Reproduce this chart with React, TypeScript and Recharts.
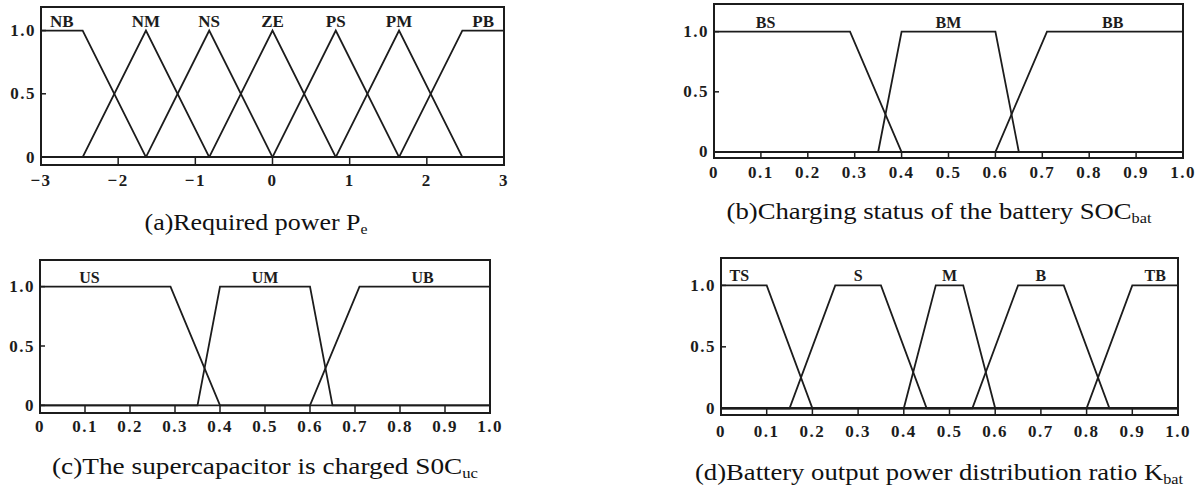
import React from 'react';
import { LineChart, Line, XAxis, YAxis, ReferenceArea, ReferenceDot } from 'recharts';

// Required power Pe: seven fuzzy sets on [-3, 3]
const peRange = [-3, 3];
const peTicks = [-3, -2, -1, 0, 1, 2, 3];
const peNames = ['NB', 'NM', 'NS', 'ZE', 'PS', 'PM', 'PB'];
const peBreaks = [
  [-3, -3, -2.46, -1.64],
  [-2.46, -1.64, -1.64, -0.82],
  [-1.64, -0.82, -0.82, 0],
  [-0.82, 0, 0, 0.82],
  [0, 0.82, 0.82, 1.64],
  [0.82, 1.64, 1.64, 2.46],
  [1.64, 2.46, 3, 3],
];
const peLabelX = [-2.73, -1.64, -0.82, 0, 0.82, 1.64, 2.73];

// shared 0..1 axis for the ratio inputs/outputs
const unitRange = [0, 1];
const unitTicks = [0, 0.1, 0.2, 0.3, 0.4, 0.5, 0.6, 0.7, 0.8, 0.9, 1];

// battery SOC
const socBatNames = ['BS', 'BM', 'BB'];
const socBatBreaks = [
  [0, 0, 0.29, 0.4],
  [0.35, 0.4, 0.6, 0.65],
  [0.6, 0.71, 1, 1],
];
const socBatLabelX = [0.11, 0.5, 0.85];

// supercapacitor SOC
const socUcNames = ['US', 'UM', 'UB'];
const socUcBreaks = [
  [0, 0, 0.29, 0.4],
  [0.35, 0.4, 0.6, 0.65],
  [0.6, 0.71, 1, 1],
];
const socUcLabelX = [0.11, 0.5, 0.85];

// battery power split ratio Kbat
const kbatNames = ['TS', 'S', 'M', 'B', 'TB'];
const kbatBreaks = [
  [0, 0, 0.1, 0.2],
  [0.15, 0.25, 0.35, 0.45],
  [0.4, 0.47, 0.53, 0.6],
  [0.55, 0.65, 0.75, 0.85],
  [0.8, 0.9, 1, 1],
];
const kbatLabelX = [0.04, 0.3, 0.5, 0.7, 0.95];

const memberTicks = [0, 0.5, 1];

const INK = '#1c1c1c';
const SERIF = '"Liberation Serif", "Times New Roman", serif';

// turn trapezoid corners into a polyline spanning the whole universe
function mfPoints(br: number[], range: number[]) {
  const [a, b, c, d] = br;
  const [lo, hi] = range;
  const pts: { x: number; y: number }[] = [];
  if (a > lo) pts.push({ x: lo, y: 0 }, { x: a, y: 0 });
  pts.push({ x: b, y: 1 });
  if (c > b) pts.push({ x: c, y: 1 });
  if (d < hi) pts.push({ x: d, y: 0 }, { x: hi, y: 0 });
  return pts;
}

const YW = 50;
const XH = 30;
const MT = 2;
const MR = 24;

type PanelProps = {
  left: number;
  top: number;
  plotW: number;
  plotH: number;
  xRange: number[];
  yRange: number[];
  xTicks: number[];
  names: string[];
  breaks: number[][];
  labelX: number[];
  tickFont: number;
  nameFont: number;
  labelGap: number;
  fmtX: (v: number) => string;
};

function Panel(p: PanelProps) {
  const width = YW + p.plotW + MR;
  const height = MT + p.plotH + XH;
  const plotLeft = YW;
  const plotBottom = MT + p.plotH;
  const [y0, y1] = p.yRange;
  const zeroY = plotBottom - ((0 - y0) / (y1 - y0)) * p.plotH;

  const renderXTick = (props: any) => {
    const { x, payload } = props;
    const v = payload.value;
    const edge = v === p.xRange[0] || v === p.xRange[1];
    return (
      <g>
        {!edge && <line x1={x} x2={x} y1={plotBottom} y2={zeroY} stroke={INK} strokeWidth={1.5} />}
        <text
          x={x}
          y={plotBottom + p.labelGap}
          textAnchor="middle"
          dominantBaseline="central"
          fontFamily={SERIF}
          fontWeight={700}
          fontSize={p.tickFont}
          letterSpacing={1.5}
          fill={INK}
        >
          {p.fmtX(v)}
        </text>
      </g>
    );
  };

  const renderYTick = (props: any) => {
    const { y, payload } = props;
    const v = payload.value;
    return (
      <g>
        <line x1={plotLeft} x2={plotLeft + 5} y1={y} y2={y} stroke={INK} strokeWidth={1.5} />
        <text
          x={plotLeft - 5}
          y={y}
          textAnchor="end"
          dominantBaseline="central"
          fontFamily={SERIF}
          fontWeight={700}
          fontSize={p.tickFont}
          letterSpacing={1.5}
          fill={INK}
        >
          {v === 0 ? '0' : v.toFixed(1)}
        </text>
      </g>
    );
  };

  return (
    <div style={{ position: 'absolute', left: p.left - YW, top: p.top - MT }}>
      <LineChart width={width} height={height} margin={{ top: MT, right: MR, bottom: 0, left: 0 }}>
        <XAxis
          type="number"
          dataKey="x"
          domain={p.xRange}
          ticks={p.xTicks}
          interval={0}
          allowDataOverflow
          axisLine={false}
          tickLine={false}
          height={XH}
          tick={renderXTick}
        />
        <YAxis
          type="number"
          domain={p.yRange}
          ticks={memberTicks}
          interval={0}
          allowDataOverflow
          axisLine={false}
          tickLine={false}
          width={YW}
          tick={renderYTick}
        />
        {p.names.map((n, i) => (
          <Line
            key={n}
            name={n}
            data={mfPoints(p.breaks[i], p.xRange)}
            dataKey="y"
            type="linear"
            stroke={INK}
            strokeWidth={1.8}
            dot={false}
            activeDot={false}
            isAnimationActive={false}
          />
        ))}
        <ReferenceArea
          x1={p.xRange[0]}
          x2={p.xRange[1]}
          y1={p.yRange[0]}
          y2={p.yRange[1]}
          fill="none"
          fillOpacity={0}
          stroke={INK}
          strokeWidth={2}
          ifOverflow="visible"
        />
        {p.names.map((n, i) => (
          <ReferenceDot
            key={'lab-' + n}
            x={p.labelX[i]}
            y={1}
            r={0}
            fill="none"
            stroke="none"
            ifOverflow="visible"
            label={{
              value: n,
              position: 'top',
              offset: 4,
              fill: INK,
              fontSize: p.nameFont,
              fontWeight: 700,
              fontFamily: SERIF,
            }}
          />
        ))}
      </LineChart>
    </div>
  );
}

const fmtSigned = (v: number) => (v < 0 ? '\u2212' + Math.abs(v) : String(v));
const fmtUnit = (v: number) => (v === 0 ? '0' : v.toFixed(1));

function Caption({ x, y, w, main, sub }: { x: number; y: number; w: number; main: string; sub: string }) {
  return (
    <text
      x={x}
      y={y}
      textAnchor="middle"
      fontFamily={SERIF}
      fontSize={23}
      fill="#111"
      textLength={w}
      lengthAdjust="spacingAndGlyphs"
    >
      {main}
      <tspan fontSize={14} dy={4}>
        {sub}
      </tspan>
    </text>
  );
}

export default function App() {
  return (
    <div style={{ position: 'absolute', left: 0, top: 0, width: 1200, height: 491, background: '#fff', overflow: 'hidden' }}>
      <Panel
        left={41}
        top={7}
        plotW={463}
        plotH={158}
        xRange={peRange}
        yRange={[-0.063, 1.186]}
        xTicks={peTicks}
        names={peNames}
        breaks={peBreaks}
        labelX={peLabelX}
        tickFont={17}
        nameFont={17}
        labelGap={15}
        fmtX={fmtSigned}
      />
      <Panel
        left={714}
        top={4}
        plotW={469}
        plotH={154}
        xRange={unitRange}
        yRange={[-0.05, 1.23]}
        xTicks={unitTicks}
        names={socBatNames}
        breaks={socBatBreaks}
        labelX={socBatLabelX}
        tickFont={17}
        nameFont={16}
        labelGap={14}
        fmtX={fmtUnit}
      />
      <Panel
        left={40}
        top={260}
        plotW={450}
        plotH={153}
        xRange={unitRange}
        yRange={[-0.064, 1.224]}
        xTicks={unitTicks}
        names={socUcNames}
        breaks={socUcBreaks}
        labelX={socUcLabelX}
        tickFont={17}
        nameFont={16}
        labelGap={13}
        fmtX={fmtUnit}
      />
      <Panel
        left={721}
        top={258}
        plotW={457}
        plotH={157}
        xRange={unitRange}
        yRange={[-0.055, 1.223]}
        xTicks={unitTicks}
        names={kbatNames}
        breaks={kbatBreaks}
        labelX={kbatLabelX}
        tickFont={17}
        nameFont={16}
        labelGap={16}
        fmtX={fmtUnit}
      />
      <svg width={1200} height={491} style={{ position: 'absolute', left: 0, top: 0, pointerEvents: 'none' }}>
        <Caption x={256} y={230} w={223} main="(a)Required power P" sub="e" />
        <Caption x={939} y={219} w={425} main="(b)Charging status of the battery SOC" sub="bat" />
        <Caption x={265} y={474} w={426} main="(c)The supercapacitor is charged S0C" sub="uc" />
        <Caption x={939} y={480} w={488} main="(d)Battery output power distribution ratio K" sub="bat" />
      </svg>
    </div>
  );
}
